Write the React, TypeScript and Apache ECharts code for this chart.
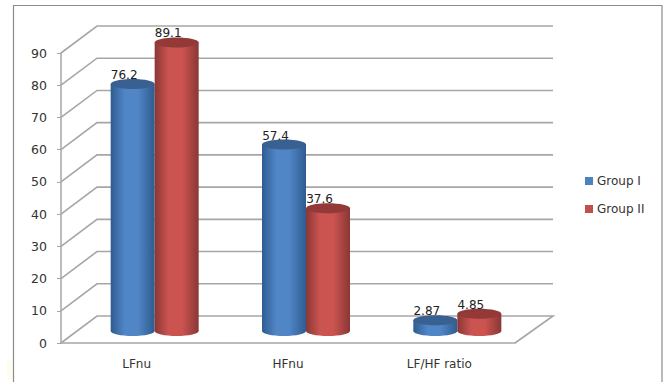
import React, { useEffect, useRef } from "react";
import * as echarts from "echarts";

const categories = ["LFnu", "HFnu", "LF/HF ratio"];
const groupOne = [76.2, 57.4, 2.87];
const groupTwo = [89.1, 37.6, 4.85];
const groupOneLabels = ["76.2", "57.4", "2.87"];
const groupTwoLabels = ["89.1", "37.6", "4.85"];
const wallTicks = [0, 10, 20, 30, 40, 50, 60, 70, 80, 90];

// Oblique projection of the chart box, in pixels
const DEPTH_X = 36;
const DEPTH_Y = 27;
const CYL_WIDTH = 44;
const CYL_RY = 5;
const GRID_COLOR = "#a6a6a6";
const FONT = "'DejaVu Sans', sans-serif";

const sideGradient = (edge: string, mid: string) => ({
  type: "linear",
  x: 0,
  y: 0,
  x2: 1,
  y2: 0,
  colorStops: [
    { offset: 0, color: edge },
    { offset: 0.32, color: mid },
    { offset: 0.62, color: mid },
    { offset: 1, color: edge },
  ],
});

// One cylinder standing halfway through the box depth
function cylinderSeries(
  name: string,
  values: number[],
  labels: string[],
  side: number,
  swatch: string,
  edge: string,
  mid: string,
  cap: string
) {
  return {
    type: "custom",
    name,
    silent: true,
    z: 5,
    clip: false,
    itemStyle: { color: swatch },
    encode: { x: 0, y: 1 },
    data: values.map((v, i) => [i, v]),
    renderItem: (_params: any, api: any) => {
      const base = api.coord([api.value(0), 0]);
      const top = api.coord([api.value(0), api.value(1)]);
      const cx = base[0] + DEPTH_X / 2 + (side * CYL_WIDTH) / 2;
      const baseY = base[1] - DEPTH_Y / 2 + 1.5;
      const topY = top[1] - DEPTH_Y / 2;
      const fill = sideGradient(edge, mid);
      const left = cx - CYL_WIDTH / 2;
      return {
        type: "group",
        children: [
          {
            type: "ellipse",
            shape: { cx, cy: baseY, rx: CYL_WIDTH / 2, ry: CYL_RY },
            style: { fill },
          },
          {
            type: "rect",
            shape: { x: left, y: topY, width: CYL_WIDTH, height: baseY - topY },
            style: { fill },
          },
          {
            type: "ellipse",
            shape: { cx, cy: topY, rx: CYL_WIDTH / 2, ry: CYL_RY },
            style: { fill: cap },
          },
          {
            type: "text",
            z2: 10,
            style: {
              x: cx - 8.5,
              y: topY - 9,
              text: labels[api.value(0)],
              fill: "#222222",
              font: `12px ${FONT}`,
              align: "center",
              verticalAlign: "middle",
            },
          },
        ],
      };
    },
  };
}

const wallSeries = {
  type: "custom",
  name: "wall",
  silent: true,
  z: 1,
  clip: false,
  encode: { x: 0, y: 1 },
  data: wallTicks.map((t) => [0, t]),
  renderItem: (params: any, api: any) => {
    const sys = params.coordSys;
    const y = api.coord([0, api.value(1)])[1];
    const x0 = sys.x;
    const x1 = sys.x + sys.width;
    const lineStyle = { stroke: GRID_COLOR, lineWidth: 1.6, fill: "none" };
    const points = [
      [x0, y],
      [x0 + DEPTH_X, y - DEPTH_Y],
      [x1 + DEPTH_X + 2, y - DEPTH_Y],
    ];
    // The lowest line closes the floor of the box on its right side
    if (api.value(1) === 0) points.push([x1, y]);
    return { type: "polyline", shape: { points }, style: lineStyle };
  },
};

const option = {
  animation: false,
  backgroundColor: "#ffffff",
  textStyle: { fontFamily: FONT },
  grid: { left: 61, top: 53, width: 454, height: 290, containLabel: false },
  xAxis: {
    type: "category",
    data: categories,
    axisLine: { lineStyle: { color: GRID_COLOR, width: 1.5 } },
    axisTick: { length: 4, alignWithLabel: false, lineStyle: { color: GRID_COLOR, width: 1 } },
    axisLabel: { color: "#333333", fontSize: 12, fontFamily: FONT, margin: 15 },
  },
  yAxis: {
    type: "value",
    min: 0,
    max: 90,
    interval: 10,
    splitLine: { show: false },
    axisLine: { show: true, lineStyle: { color: GRID_COLOR, width: 1.5 } },
    axisTick: { show: true, length: 4, lineStyle: { color: GRID_COLOR, width: 1 } },
    axisLabel: { color: "#333333", fontSize: 12.5, fontFamily: FONT, margin: 14 },
  },
  legend: {
    data: ["Group I", "Group II"],
    orient: "vertical",
    left: 580,
    top: 170,
    itemWidth: 8,
    itemHeight: 8,
    itemGap: 16,
    icon: "rect",
    selectedMode: false,
    textStyle: { color: "#333333", fontSize: 12, fontFamily: FONT, padding: [0, 0, 0, -1] },
  },
  graphic: [
    {
      type: "rect",
      silent: true,
      shape: { x: 7, y: 360, width: 6, height: 20 },
      style: { fill: "#fffdf0" },
    },
    {
      type: "polyline",
      silent: true,
      shape: {
        points: [
          [13.5, 382],
          [13.5, 5.5],
          [662, 5.5],
          [662, 382],
        ],
      },
      style: { stroke: "#8c8c8c", lineWidth: 1.2, fill: "none" },
    },
  ],
  series: [
    wallSeries,
    cylinderSeries("Group I", groupOne, groupOneLabels, -1, "#4f81bd", "#2f5c90", "#5085c6", "#386192"),
    cylinderSeries("Group II", groupTwo, groupTwoLabels, 1, "#c0504d", "#8a3735", "#cb5451", "#933937"),
  ],
};

export default function App() {
  const ref = useRef<HTMLDivElement>(null);
  useEffect(() => {
    const chart = echarts.init(ref.current!, undefined, { renderer: "svg" });
    chart.setOption(option as any);
    return () => chart.dispose();
  }, []);
  return (
    <div
      ref={ref}
      style={{ position: "absolute", left: 0, top: 0, width: 663, height: 382 }}
    />
  );
}
